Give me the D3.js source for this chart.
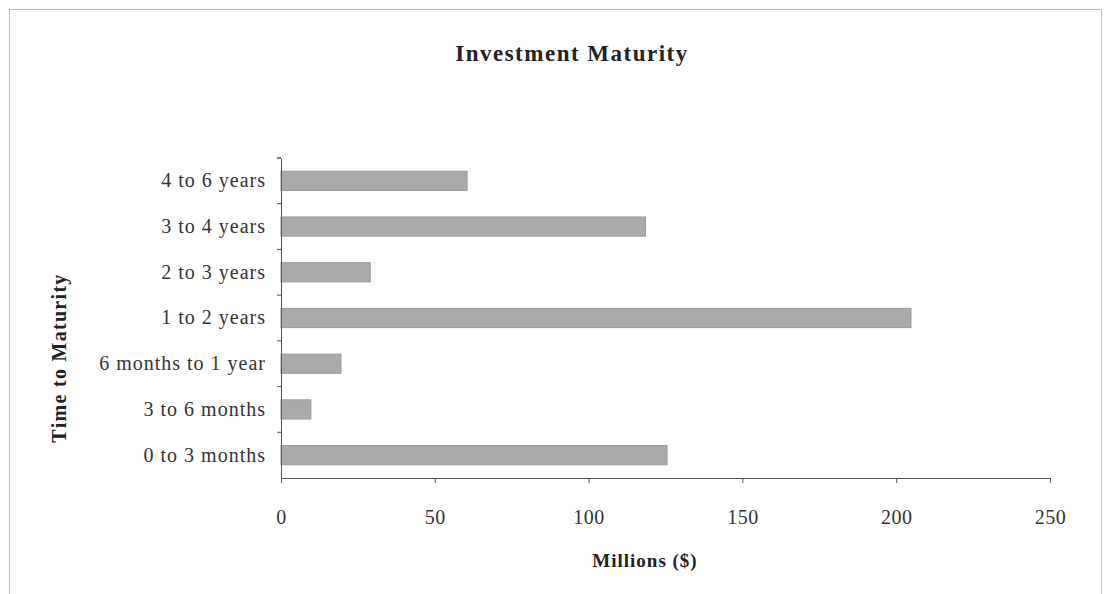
<!DOCTYPE html>
<html><head><meta charset="utf-8">
<script src="https://cdn.jsdelivr.net/npm/d3@7"></script>
<style>body{margin:0;background:#fff}svg{display:block}</style>
</head><body>
<script>
const categories = ["0 to 3 months","3 to 6 months","6 months to 1 year","1 to 2 years","2 to 3 years","3 to 4 years","4 to 6 years"];
const values = [125.5, 9.7, 19.5, 204.8, 29, 118.5, 60.5];
const xTicks = [0, 50, 100, 150, 200, 250];
const title = "Investment Maturity";
const xTitle = "Millions ($)";
const yTitle = "Time to Maturity";

(function () {
const W = 1108, H = 594;
const svg = d3.select("body").append("svg").attr("width", W).attr("height", H);
const font = "'Liberation Serif','Times New Roman',serif";

svg.append("rect").attr("x", 9.5).attr("y", 9.5).attr("width", 1092).attr("height", 600)
  .attr("fill", "none").attr("stroke", "#bbb");

const pLeft = 281, pRight = 1050, pTop = 158, pBottom = 478;
const x = d3.scaleLinear().domain([0, 250]).range([pLeft, pRight]);
const y = d3.scaleBand().domain(categories.slice().reverse()).range([pTop, pBottom])
  .paddingInner(0.58).paddingOuter(0.29);

svg.append("g").selectAll("rect").data(categories).join("rect")
  .attr("x", x(0)).attr("y", d => y(d))
  .attr("width", (d, i) => x(values[i]) - x(0))
  .attr("height", y.bandwidth())
  .attr("fill", "#aaaaaa").attr("stroke", "#9a9a9a").attr("stroke-width", 1);

const xa = svg.append("g").attr("transform", `translate(0,${pBottom})`)
  .call(d3.axisBottom(x).tickValues(xTicks).tickSize(5).tickPadding(27).tickFormat(d3.format("d")));
xa.select(".domain").attr("stroke", "#555");
xa.selectAll(".tick line").attr("stroke", "#555");
xa.selectAll("text").attr("font-family", font).attr("font-size", 20).attr("letter-spacing", 0.5).attr("fill", "#333");

const ya = svg.append("g").attr("transform", `translate(${pLeft},0)`)
  .call(d3.axisLeft(y).tickSize(0).tickPadding(15));
ya.select(".domain").attr("stroke", "#555");
ya.selectAll("text").attr("font-family", font).attr("font-size", 20).attr("letter-spacing", 1).attr("fill", "#333");
const bounds = categories.map(c => y(c) - y.step() * y.paddingInner() / 2);
svg.append("g").selectAll("line").data(bounds.concat([pTop])).join("line")
  .attr("x1", pLeft - 4).attr("x2", pLeft).attr("y1", d => d).attr("y2", d => d)
  .attr("stroke", "#555");

svg.append("text").attr("x", 572).attr("y", 61).attr("text-anchor", "middle")
  .attr("font-family", font).attr("font-weight", "bold").attr("font-size", 23).attr("letter-spacing", 1.5).attr("fill", "#222").text(title);
svg.append("text").attr("x", 645).attr("y", 567).attr("text-anchor", "middle")
  .attr("font-family", font).attr("font-weight", "bold").attr("font-size", 19).attr("letter-spacing", 1).attr("fill", "#222").text(xTitle);
svg.append("text").attr("transform", "translate(66,358) rotate(-90)").attr("text-anchor", "middle")
  .attr("font-family", font).attr("font-weight", "bold").attr("font-size", 20).attr("letter-spacing", 1.3).attr("fill", "#222").text(yTitle);
})();
</script>
</body></html>
